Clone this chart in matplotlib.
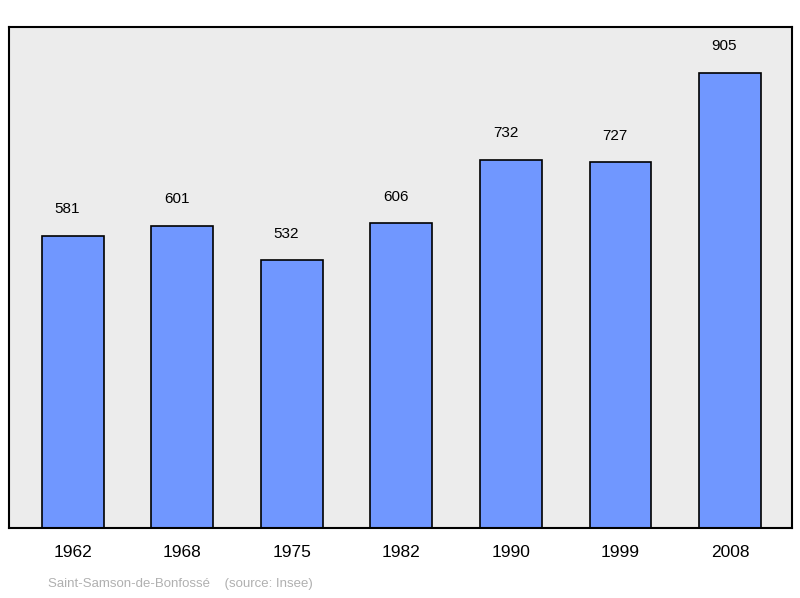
import matplotlib
matplotlib.use("Agg")
import matplotlib.pyplot as plt

years = ["1962", "1968", "1975", "1982", "1990", "1999", "2008"]
population = [581, 601, 532, 606, 732, 727, 905]

fig = plt.figure(figsize=(8, 5.98), dpi=100)
ax = fig.add_axes([9/800, 1-528/598, 783/800, 501/598])
ax.set_facecolor("#ececec")
x = list(range(len(years)))
ax.bar(x, population, width=0.566, color="#7097ff", edgecolor="black", linewidth=1.2)
for xi, v in zip(x, population):
    ax.annotate(str(v), (xi, v), xytext=(-4, 14), textcoords="offset points",
                ha="center", va="bottom", fontsize=11, family="Liberation Sans")
ax.set_xlim(-0.584, 6.566)
ax.set_ylim(0, 996)
ax.set_yticks([])
ax.set_xticks(x)
ax.set_xticklabels(years, fontsize=12.5, family="Liberation Sans")
ax.tick_params(axis="x", length=0, pad=12)
for s in ax.spines.values():
    s.set_linewidth(1.5)
fig.text(48/800, 1-584/598, "Saint-Samson-de-Bonfossé    (source: Insee)",
         color="#b0b0b0", fontsize=9.5, va="center", family="Liberation Sans")
fig.savefig("out.png", dpi=100)
